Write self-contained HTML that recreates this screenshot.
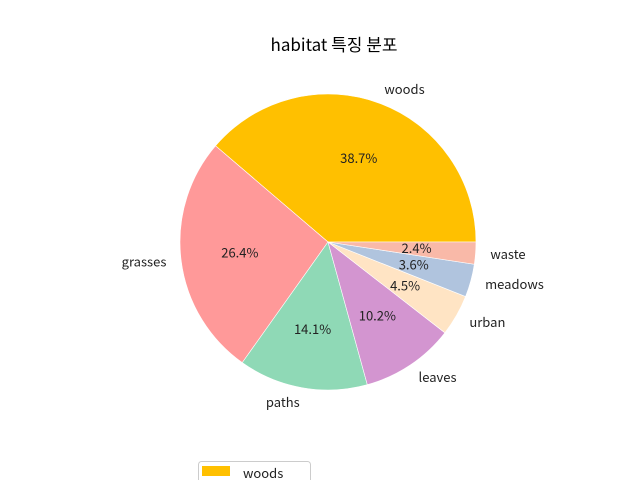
<!DOCTYPE html>
<html><head><meta charset="utf-8"><style>
body{margin:0;background:#fff;}
svg{display:block;font-family:"Noto Sans CJK KR","Liberation Sans",sans-serif;}
</style></head><body>
<svg id="c" width="640" height="480">
<text x="334" y="51" font-size="17" text-anchor="middle" fill="#000">habitat 특징 분포</text>
<g id="slices"></g>
<g>
<rect x="198.5" y="461.5" width="112" height="30" rx="3" fill="#fff" stroke="#ccc"/>
<rect x="202" y="466" width="28" height="10" fill="#FFC000"/>
<text x="243" y="478" font-size="13" fill="#222">woods</text>
</g>
</svg>
<script>
const labels=["woods","grasses","paths","leaves","urban","meadows","waste"];
const values=[38.7,26.4,14.1,10.2,4.5,3.6,2.4];
const colors=["#FFC000","#FF9999","#8FD9B6","#D395D0","#FFE4C4","#B0C4DE","#F9B9A8"];
const cx=328,cy=242,r=148;
const g=document.getElementById('slices');
const ns="http://www.w3.org/2000/svg";
const total=values.reduce((a,b)=>a+b,0);
let a0=0;
values.forEach((v,i)=>{
  const a1=a0+v/total*2*Math.PI;
  const x0=cx+r*Math.cos(a0),y0=cy-r*Math.sin(a0);
  const x1=cx+r*Math.cos(a1),y1=cy-r*Math.sin(a1);
  const large=(a1-a0)>Math.PI?1:0;
  const p=document.createElementNS(ns,'path');
  p.setAttribute('d',`M${cx},${cy} L${x0},${y0} A${r},${r} 0 ${large} 0 ${x1},${y1} Z`);
  p.setAttribute('fill',colors[i]);
  p.setAttribute('stroke','#fff');
  p.setAttribute('stroke-width','0.6');
  
  
  g.appendChild(p);
  const am=(a0+a1)/2;
  const lx=cx+1.1*r*Math.cos(am),ly=cy-1.1*r*Math.sin(am);
  const t=document.createElementNS(ns,'text');
  t.setAttribute('x',lx);t.setAttribute('y',ly+4.5);
  t.setAttribute('font-size','13');t.setAttribute('fill','#222');
  t.setAttribute('text-anchor',Math.cos(am)>=0?'start':'end');
  t.textContent=labels[i];
  
  
  g.appendChild(t);
  const px=cx+0.6*r*Math.cos(am),py=cy-0.6*r*Math.sin(am);
  const q=document.createElementNS(ns,'text');
  q.setAttribute('x',px);q.setAttribute('y',py+4.5);
  q.setAttribute('font-size','13');q.setAttribute('fill','#222');
  q.setAttribute('text-anchor','middle');
  q.textContent=v.toFixed(1)+'%';
  
  
  g.appendChild(q);
  a0=a1;
});
</script>
</body></html>
